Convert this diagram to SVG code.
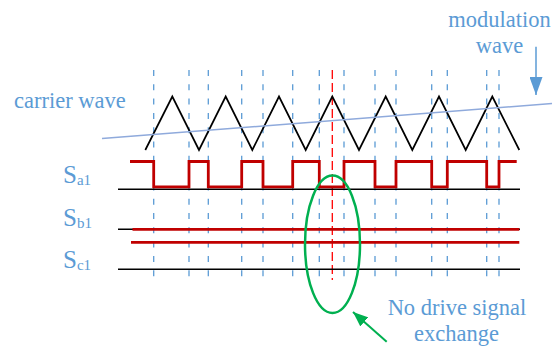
<svg xmlns="http://www.w3.org/2000/svg" width="560" height="346" viewBox="0 0 560 346">
<defs>
<style>
.lbl{font-family:"Liberation Serif","Times New Roman",serif;fill:#5B9BD5;font-size:22.5px}
.s{font-family:"Liberation Serif","Times New Roman",serif;fill:#5B9BD5;font-size:25px}
.sub{font-size:15px}
.dash{stroke:#5B9BD5;stroke-width:1.3;stroke-dasharray:6 8.3;fill:none}
.rdash{stroke:#FF0000;stroke-width:1.3;stroke-dasharray:9 4;fill:none}
.base{stroke:#000;stroke-width:1.5;fill:none}
.red{stroke:#C00000;stroke-width:2.8;fill:none}
</style>
<marker id="ab" viewBox="0 0 18 13" refX="18" refY="6.5" markerWidth="18" markerHeight="13" markerUnits="userSpaceOnUse" orient="auto"><path d="M0,0 L18,6.5 L0,13 z" fill="#5B9BD5"/></marker>
<marker id="ag" viewBox="0 0 15 12" refX="15" refY="6" markerWidth="15" markerHeight="12" markerUnits="userSpaceOnUse" orient="auto"><path d="M0,0 L15,6 L0,12 z" fill="#00B050"/></marker>
</defs>
<rect width="560" height="346" fill="#fff"/>
<g id="gridlines">
<path class="dash" d="M153.7,70V280M189,70V280M208.3,70V280M241.7,70V280M263,70V280M292.7,70V280M319.3,70V280M344,70V280M375,70V280M396,70V280M431.7,70V280M447.3,70V280M486.7,70V280M499,70V280"/>
<path class="rdash" d="M332.3,70V280"/>
</g>
<g id="carrier">
<polyline fill="none" stroke="#000" stroke-width="1.7" points="145.3,150 172.3,96.5 199,150 225.7,96.5 252.3,150 279,96.5 305.7,150 332.3,96.5 359,150 385.7,96.5 412.3,150 439,96.5 465.7,150 492.3,96.5 519.3,150"/>
</g>
<g id="modulation">
<line x1="102" y1="138.5" x2="552" y2="103.5" stroke="#8FAADC" stroke-width="1.5"/>
</g>
<g id="signals">
<line class="base" x1="118" y1="189.3" x2="520" y2="189.3"/>
<line class="base" x1="118" y1="229.3" x2="520" y2="229.3"/>
<line class="base" x1="118" y1="269.3" x2="520" y2="269.3"/>
<polyline class="red" points="130,161.5 153.7,161.5 153.7,186.8 189,186.8 189,161.5 208.3,161.5 208.3,186.8 241.7,186.8 241.7,161.5 263,161.5 263,186.8 292.7,186.8 292.7,161.5 319.3,161.5 319.3,186.8 344,186.8 344,161.5 375,161.5 375,186.8 396,186.8 396,161.5 431.7,161.5 431.7,186.8 447.3,186.8 447.3,161.5 486.7,161.5 486.7,186.8 499,186.8 499,161.5 516.7,161.5"/>
<line class="red" x1="132.5" y1="229.3" x2="519.3" y2="229.3"/>
<line class="red" x1="131" y1="242.3" x2="519.3" y2="242.3"/>
</g>
<g id="labels">
<text class="lbl" x="14" y="107.7">carrier wave</text>
<text class="lbl" x="499.5" y="26.7" text-anchor="middle">modulation</text>
<text class="lbl" x="499.5" y="53" text-anchor="middle">wave</text>
<text class="s" x="63" y="183.3">S<tspan class="sub" dy="2">a1</tspan></text>
<text class="s" x="63" y="226">S<tspan class="sub" dy="2">b1</tspan></text>
<text class="s" x="63" y="268.3">S<tspan class="sub" dy="2">c1</tspan></text>
<text class="lbl" x="457" y="315" text-anchor="middle">No drive signal</text>
<text class="lbl" x="456.5" y="340.5" text-anchor="middle">exchange</text>
</g>
<g id="callouts">
<line x1="536" y1="46.7" x2="536" y2="95" stroke="#5B9BD5" stroke-width="1.5" marker-end="url(#ab)"/>
<ellipse cx="332.5" cy="244.3" rx="27.5" ry="68.7" fill="none" stroke="#00B050" stroke-width="2.5"/>
<line x1="386.7" y1="341.7" x2="353" y2="312" stroke="#00B050" stroke-width="2" marker-end="url(#ag)"/>
</g>
</svg>
